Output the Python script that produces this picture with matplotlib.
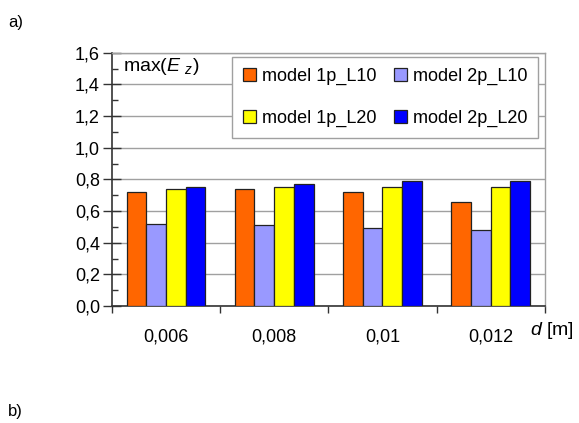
import matplotlib
matplotlib.use("Agg")
import matplotlib.pyplot as plt
import numpy as np
from matplotlib.ticker import MultipleLocator, FixedLocator

categories = ["0,006", "0,008", "0,01", "0,012"]
series_names = ["model 1p_L10", "model 2p_L10", "model 1p_L20", "model 2p_L20"]
model_1p_L10 = [0.72, 0.74, 0.72, 0.66]
model_2p_L10 = [0.52, 0.51, 0.49, 0.48]
model_1p_L20 = [0.74, 0.75, 0.75, 0.75]
model_2p_L20 = [0.75, 0.77, 0.79, 0.79]
series_values = [model_1p_L10, model_2p_L10, model_1p_L20, model_2p_L20]
colors = ["#FF6600", "#9999FF", "#FFFF00", "#0000FF"]
y_ticks = [0.0, 0.2, 0.4, 0.6, 0.8, 1.0, 1.2, 1.4, 1.6]
y_tick_labels = ["0,0", "0,2", "0,4", "0,6", "0,8", "1,0", "1,2", "1,4", "1,6"]

FAM = ["Liberation Sans Narrow", "Liberation Sans", "DejaVu Sans"]
plt.rcParams['font.family'] = FAM
plt.rcParams['mathtext.fontset'] = 'custom'
plt.rcParams['mathtext.rm'] = 'Liberation Sans'
plt.rcParams['mathtext.it'] = 'Liberation Sans:italic'

fig = plt.figure(figsize=(5.79, 4.23), dpi=100)
ax = fig.add_axes([0.193, 0.2766, 0.748, 0.5988])

n = len(categories)
x = np.arange(n)
w = 1 / 5.5
handles = []
for i, (vals, c, name) in enumerate(zip(series_values, colors, series_names)):
    b = ax.bar(x + (i - 1.5) * w, vals, width=w, color=c, edgecolor="#222222",
               linewidth=0.9, label=name, zorder=3)
    handles.append(b)

ax.set_xlim(-0.5, n - 0.5)
ax.set_ylim(0, 1.6)

ax.yaxis.set_major_locator(FixedLocator(y_ticks))
ax.set_yticklabels(y_tick_labels, fontsize=13)
ax.yaxis.set_minor_locator(MultipleLocator(0.1))
ax.tick_params(axis='y', which='major', direction='inout', length=13, width=1,
               color="#333333", pad=2)
ax.tick_params(axis='y', which='minor', direction='in', length=4, width=1,
               color="#333333")

ax.xaxis.set_major_locator(FixedLocator(np.arange(n + 1) - 0.5))
ax.xaxis.set_major_formatter(plt.NullFormatter())
ax.xaxis.set_minor_locator(FixedLocator(x))
ax.set_xticklabels(categories, minor=True, fontsize=13)
ax.tick_params(axis='x', which='major', direction='out', length=5, width=1,
               color="#333333")
ax.tick_params(axis='x', which='minor', length=0, pad=16)

ax.grid(axis='y', which='major', color="#A0A0A0", linewidth=1, zorder=0)
ax.set_axisbelow(True)
for s in ["top", "right"]:
    ax.spines[s].set_color("#A0A0A0")
    ax.spines[s].set_linewidth(1)
for s in ["left", "bottom"]:
    ax.spines[s].set_color("#333333")
    ax.spines[s].set_linewidth(1.2)

ax.text(0.026, 0.945, r"max($E\ _z$)", transform=ax.transAxes, fontsize=14,
        ha="left", va="center", zorder=5)

fig.text(530 / 579, 1 - 330 / 423, r"$d$ [m]", fontsize=14, ha="left", va="center")

order = [0, 2, 1, 3]
leg = ax.legend([handles[k] for k in order], [series_names[k] for k in order],
                ncol=2, loc="center", bbox_to_anchor=(0.277, 0.668, 0.707, 0.31),
                mode="expand", borderaxespad=0, fontsize=13, frameon=True,
                fancybox=False, edgecolor="#A0A0A0", framealpha=1,
                handlelength=0.75, handleheight=0.75, handletextpad=0.3,
                labelspacing=1.35, columnspacing=1.5, borderpad=0.6)
leg.get_frame().set_linewidth(1)
leg.set_zorder(6)

fig.text(8 / 579, 1 - 22 / 423, "a)", fontsize=12, family=["Liberation Sans", "DejaVu Sans"],
         ha="left", va="center")
fig.text(8 / 579, 1 - 411 / 423, "b)", fontsize=12, family=["Liberation Sans", "DejaVu Sans"],
         ha="left", va="center")

fig.savefig("out.png", dpi=100)
